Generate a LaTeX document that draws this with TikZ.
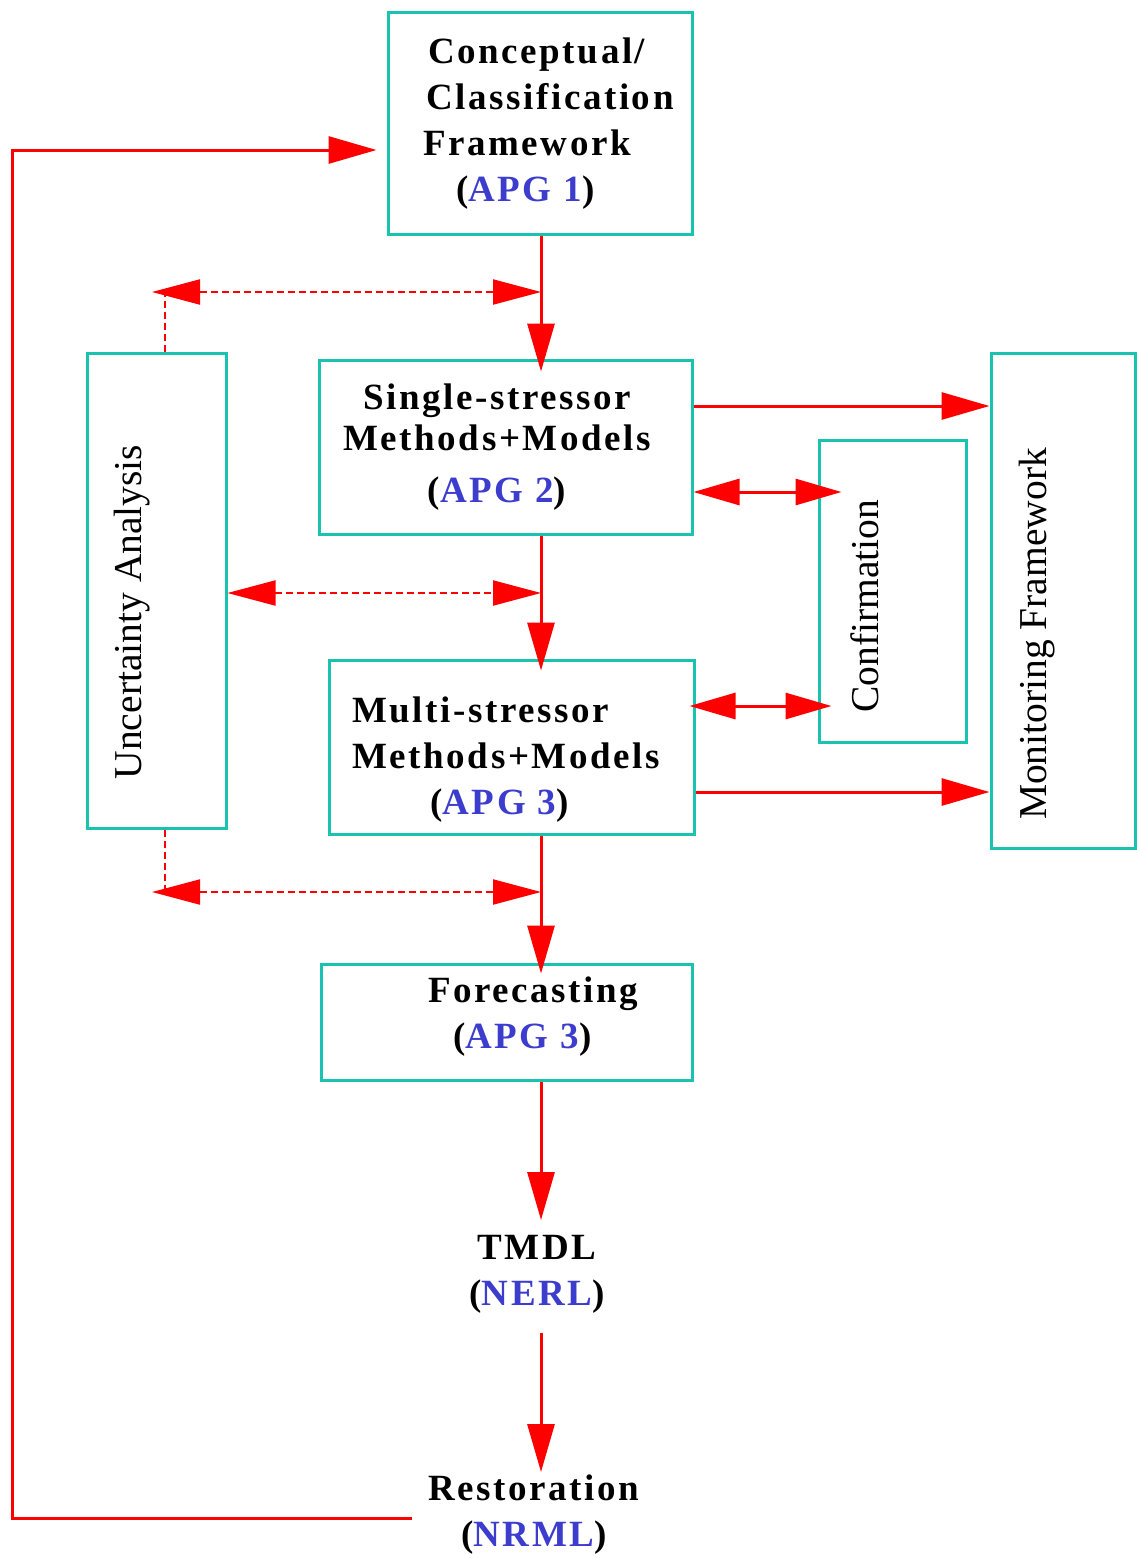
\documentclass[tikz,border=0pt]{standalone}
\usepackage{fontspec}
\setmainfont{Liberation Serif}
\newfontfamily\bsf[LetterSpace=7]{Liberation Serif}
\usetikzlibrary{arrows.meta,calc}
\definecolor{teal1}{RGB}{25,195,175}
\definecolor{apgblue}{RGB}{60,60,205}
\definecolor{arred}{RGB}{255,0,0}
\newcommand{\apg}[1]{\textcolor{apgblue}{#1}}
\tikzset{
  box/.style={draw=teal1, line width=3pt, rectangle, inner sep=0pt},
  btxt/.style={font=\bsf\bfseries\fontsize{37}{46}\selectfont, align=center, inner sep=0pt},
  rtxt/.style={font=\fontsize{39.5}{46}\selectfont, rotate=90, inner sep=0pt},
  arr/.style={draw=arred, line width=3pt, -{Triangle[length=48pt,width=27pt]}},
  darr/.style={draw=arred, line width=3pt, {Triangle[length=46pt,width=26pt]}-{Triangle[length=46pt,width=26pt]}},
  dotarr/.style={draw=arred, line width=2pt, dash pattern=on 7pt off 4pt, {Triangle[length=48pt,width=25pt]}-{Triangle[length=48pt,width=25pt]}},
  dotline/.style={draw=arred, line width=2pt, dash pattern=on 7pt off 4pt},
}
\begin{document}
\begin{tikzpicture}[x=1pt,y=-1pt]
\useasboundingbox (0,0) rectangle (1137,1558);
% boxes
\node[box, minimum width=304pt, minimum height=222pt] (b1) at (540,123) {};
\node[box, minimum width=373pt, minimum height=174pt] (b2) at (505.5,447) {};
\node[box, minimum width=139pt, minimum height=475pt] (unc) at (156.5,590.5) {};
\node[box, minimum width=147pt, minimum height=302pt] (conf) at (892.5,591) {};
\node[box, minimum width=144pt, minimum height=495pt] (mon) at (1063,600.5) {};
\node[box, minimum width=365pt, minimum height=174pt] (b3) at (511.5,747) {};
\node[box, minimum width=371pt, minimum height=116pt] (fc) at (506.5,1022) {};
% texts
\node[btxt, align=left, anchor=west] (t1) at (423,124) {\hspace*{5pt}Conceptual/\\\hspace*{3pt}Classification\\Framework\\\hspace*{33pt}(\apg{APG 1})};
\node[btxt] (t2) at (497,447) {Single-stressor\\[-5pt]Methods+Models\\[6pt](\apg{APG 2})};
\node[btxt, align=left] (t3) at (506,760) {Multi-stressor\\Methods+Models\\\hspace*{78pt}(\apg{APG 3})};
\node[btxt, align=left, anchor=west] (t4) at (428,1017) {Forecasting\\\hspace*{25pt}(\apg{APG 3})};
\node[btxt] (tmdl) at (537,1274) {TMDL\\(\apg{NERL})};
\node[btxt] (rest) at (534,1515) {Restoration\\(\apg{NRML})};
\node[rtxt] (tu) at (132,612) {Uncertainty Analysis};
\node[rtxt] (tc) at (865,606) {Confirmation};
\node[rtxt] (tm) at (1037,634) {Monitoring Framework};
% coordinates
\coordinate (cx) at (541,0);
\coordinate (d1L) at (152,292);
\coordinate (d1R) at (541,292);
\coordinate (d1V) at (165,292);
\coordinate (d2R) at (541,593);
\coordinate (d3L) at (152,892);
\coordinate (d3R) at (541,892);
\coordinate (d3V) at (165,892);
\coordinate (fbC) at (12,1518);
\coordinate (tmdlT) at (541,1220);
\coordinate (tmdlB) at (541,1333);
\coordinate (restT) at (541,1472);
% main vertical flow
\draw[arr, shorten >=-13pt] (cx |- b1.south) -- (cx |- b2.north);
\draw[arr, shorten >=-12pt] (cx |- b2.south) -- (cx |- b3.north);
\draw[arr, shorten >=-11pt] (cx |- b3.south) -- (cx |- fc.north);
\draw[arr] (cx |- fc.south) -- (tmdlT);
\draw[arr] (tmdlB) -- (restT);
% feedback loop
\draw[arr, line cap=rect, shorten >=10pt] ([xshift=-18pt]rest.west |- fbC) -- (fbC) |- ([yshift=-27pt]b1.west);
% dotted uncertainty links
\draw[dotarr] (d1L) -- (d1R);
\draw[dotline] (d1V |- unc.north) -- (d1V);
\draw[dotarr] ([yshift=-2.5pt]unc.east) -- (d2R);
\draw[dotarr] (d3L) -- (d3R);
\draw[dotline] (d3V |- unc.south) -- (d3V);
% side links
\draw[arr] ([yshift=41pt]b2.east) -- (mon.west |- {$(b2.east)+(0,-41)$});
\draw[darr, shorten >=-24pt] ($(b2.east)+(0,45)$) -- (conf.west |- {$(b2.east)+(0,45)$});
\draw[darr, shorten >=-14pt, shorten <=-6pt] ($(b3.east)+(0,-41)$) -- (conf.west |- {$(b3.east)+(0,-41)$});
\draw[arr] ($(b3.east)+(0,45)$) -- (mon.west |- {$(b3.east)+(0,45)$});
\end{tikzpicture}
\end{document}
